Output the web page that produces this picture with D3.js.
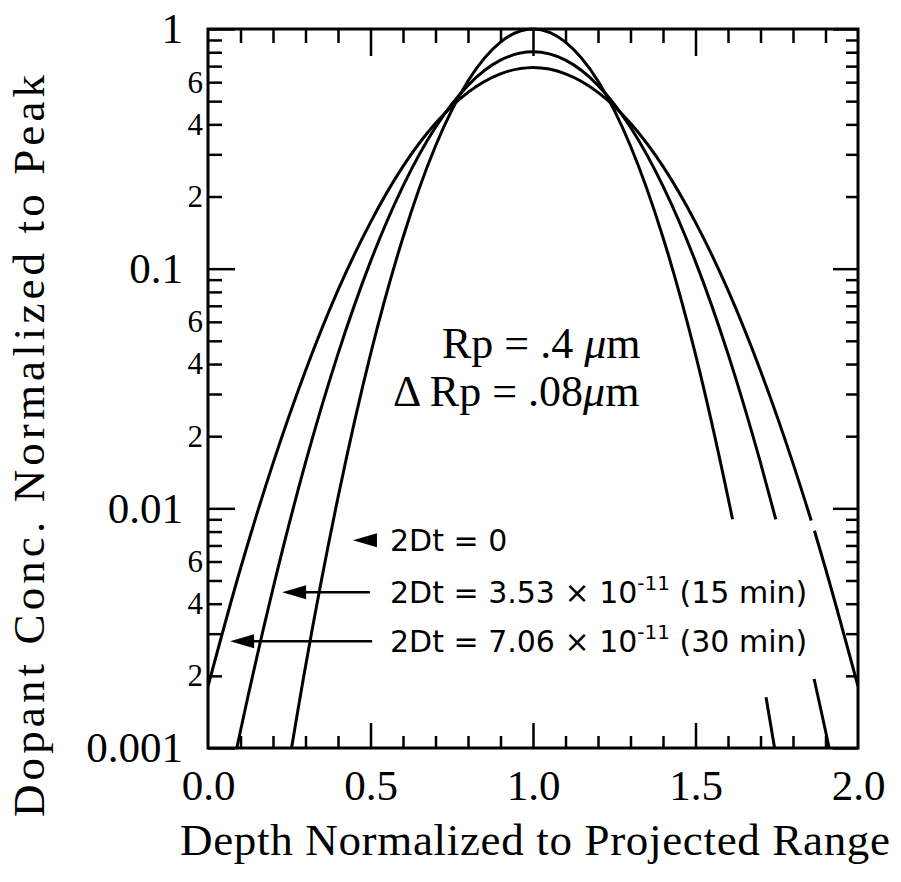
<!DOCTYPE html>
<html>
<head>
<meta charset="utf-8">
<script src="https://cdn.jsdelivr.net/npm/d3@7"></script>
<style>
  body { margin: 0; background: #fff; }
  text { fill: #000; }
</style>
</head>
<body>
<svg id="chart" width="901" height="882"></svg>
<script>
// depth / Rp for each curve (null = gap in the printed line)
const noAnnealX = [0.2, 0.3, 0.4, 0.5, 0.6, 0.7, 0.8, 0.9, 1.0, 1.1, 1.2, 1.3, 1.4, 1.5, 1.6, 1.614, 1.66, 1.717, 1.75];
const noAnnealY = [0.000335, 0.00219, 0.0111, 0.0439, 0.135, 0.325, 0.607, 0.882, 1.0, 0.882, 0.607, 0.325, 0.135, 0.0439, 0.0111, 0.0090, null, 0.00163, 0.000884];

const min15X = [0, 0.1, 0.2, 0.3, 0.4, 0.5, 0.6, 0.7, 0.8, 0.9, 1.0, 1.1, 1.2, 1.3, 1.4, 1.5, 1.6, 1.7, 1.747, 1.8, 1.865, 1.9, 1.95];
const min15Y = [0.000255, 0.00118, 0.00463, 0.0155, 0.0441, 0.107, 0.221, 0.389, 0.582, 0.741, 0.803, 0.741, 0.582, 0.389, 0.221, 0.107, 0.0441, 0.0155, 0.0090, null, 0.00194, 0.00118, 0.000558];

const min30X = [0, 0.1, 0.2, 0.3, 0.4, 0.5, 0.6, 0.7, 0.8, 0.9, 1.0, 1.1, 1.2, 1.3, 1.4, 1.5, 1.6, 1.7, 1.8, 1.856, 1.86, 1.866, 1.9, 2.0];
const min30Y = [0.00181, 0.00561, 0.0154, 0.0375, 0.0813, 0.156, 0.267, 0.404, 0.544, 0.650, 0.690, 0.650, 0.544, 0.404, 0.267, 0.156, 0.0813, 0.0375, 0.0154, 0.0089, null, 0.00806, 0.00561, 0.00181];

// axis ticks
const xLabels = [0, 0.5, 1.0, 1.5, 2.0];
const xMinor = [0.1, 0.2, 0.3, 0.4, 0.6, 0.7, 0.8, 0.9, 1.1, 1.2, 1.3, 1.4, 1.6, 1.7, 1.8, 1.9];
const xMajor = [0.5, 1.0, 1.5];
const yDecades = [1, 0.1, 0.01, 0.001];
const yDecadeLabels = ["1", "0.1", "0.01", "0.001"];
const yMinor = [0.9, 0.8, 0.7, 0.6, 0.5, 0.4, 0.3, 0.2,
                0.09, 0.08, 0.07, 0.06, 0.05, 0.04, 0.03, 0.02,
                0.009, 0.008, 0.007, 0.006, 0.005, 0.004, 0.003, 0.002];
const yMinorLabeled = [0.6, 0.4, 0.2, 0.06, 0.04, 0.02, 0.006, 0.004, 0.002];

// legend rows: arrow tip / tail and text start in data units
const legendRows = [
  { text: "2Dt = 0", sup: null, tail: null, tip: 0.446, y: 0.00736, textX: 0.56 },
  { text: "2Dt = 3.53 \u00d7 10", sup: "-11", rest: " (15 min)", tail: 0.498, tip: 0.228, y: 0.00447, textX: 0.56 },
  { text: "2Dt = 7.06 \u00d7 10", sup: "-11", rest: " (30 min)", tail: 0.505, tip: 0.068, y: 0.00279, textX: 0.56 }
];

const svg = d3.select("#chart");
const pl = 208, pr = 858, pt = 29, pb = 748;

const x = d3.scaleLinear().domain([0, 2]).range([pl, pr]);
const y = d3.scaleLog().domain([0.001, 1]).range([pb, pt]);

const serif = "'Liberation Serif', 'Times New Roman', Times, serif";
const sans = "'DejaVu Sans', Verdana, sans-serif";

svg.append("defs").append("clipPath").attr("id", "plotclip")
   .append("rect")
   .attr("x", pl).attr("y", pt - 6)
   .attr("width", pr - pl).attr("height", pb - pt + 6);

// curves
const series = [
  { xs: noAnnealX, ys: noAnnealY },
  { xs: min15X, ys: min15Y },
  { xs: min30X, ys: min30Y }
];

const line = d3.line()
   .defined(d => d[1] != null)
   .x(d => x(d[0]))
   .y(d => y(d[1]))
   .curve(d3.curveMonotoneX);

svg.append("g")
   .attr("clip-path", "url(#plotclip)")
   .selectAll("path")
   .data(series)
   .enter().append("path")
   .attr("d", s => line(s.xs.map((v, i) => [v, s.ys[i]])))
   .attr("fill", "none")
   .attr("stroke", "#000")
   .attr("stroke-width", 3);

// tick helper
function ticks(g, w) {
  g.select(".domain").remove();
  g.selectAll("line").attr("stroke", "#000").attr("stroke-width", w);
}

// bottom
svg.append("g").attr("transform", `translate(0,${pb})`)
   .call(d3.axisBottom(x).tickValues(xMinor).tickSize(-12).tickFormat(""))
   .call(g => ticks(g, 2.5));
svg.append("g").attr("transform", `translate(0,${pb})`)
   .call(d3.axisBottom(x).tickValues(xMajor).tickSize(-25).tickFormat(""))
   .call(g => ticks(g, 2.5));
svg.append("g").attr("transform", `translate(0,${pb})`)
   .call(d3.axisBottom(x).tickValues(xLabels).tickSize(0).tickPadding(21).tickFormat(d3.format(".1f")))
   .call(g => g.select(".domain").remove())
   .call(g => g.selectAll("text").attr("font-family", serif).attr("font-size", 43).attr("fill", "#000"));

// top
svg.append("g").attr("transform", `translate(0,${pt})`)
   .call(d3.axisTop(x).tickValues(xMinor).tickSize(-14).tickFormat(""))
   .call(g => ticks(g, 2.5));
svg.append("g").attr("transform", `translate(0,${pt})`)
   .call(d3.axisTop(x).tickValues(xMajor).tickSize(-27).tickFormat(""))
   .call(g => ticks(g, 2.5));

// left
svg.append("g").attr("transform", `translate(${pl},0)`)
   .call(d3.axisLeft(y).tickValues(yMinor).tickSize(-14).tickFormat(""))
   .call(g => ticks(g, 2.5));
svg.append("g").attr("transform", `translate(${pl},0)`)
   .call(d3.axisLeft(y).tickValues(yDecades).tickSize(-27).tickFormat(""))
   .call(g => ticks(g, 2.5));
svg.append("g").attr("transform", `translate(${pl},0)`)
   .call(d3.axisLeft(y).tickValues(yDecades).tickSize(0).tickPadding(25)
          .tickFormat((d, i) => yDecadeLabels[i]))
   .call(g => g.select(".domain").remove())
   .call(g => g.selectAll("text").attr("font-family", serif).attr("font-size", 43).attr("fill", "#000"));
svg.append("g").attr("transform", `translate(${pl},0)`)
   .call(d3.axisLeft(y).tickValues(yMinorLabeled).tickSize(0).tickPadding(5)
          .tickFormat(d => d3.format(".0e")(d)[0]))
   .call(g => g.select(".domain").remove())
   .call(g => g.selectAll("text").attr("font-family", serif).attr("font-size", 31).attr("fill", "#000"));

// right
svg.append("g").attr("transform", `translate(${pr},0)`)
   .call(d3.axisRight(y).tickValues(yMinor).tickSize(-12).tickFormat(""))
   .call(g => ticks(g, 2.5));
svg.append("g").attr("transform", `translate(${pr},0)`)
   .call(d3.axisRight(y).tickValues(yDecades).tickSize(-25).tickFormat(""))
   .call(g => ticks(g, 2.5));

// frame
svg.append("rect")
   .attr("x", pl).attr("y", pt)
   .attr("width", pr - pl).attr("height", pb - pt)
   .attr("fill", "none").attr("stroke", "#000").attr("stroke-width", 3);

// axis titles
svg.append("text")
   .attr("x", 535).attr("y", 855)
   .attr("text-anchor", "middle")
   .attr("font-family", serif).attr("font-size", 45)
   .attr("textLength", 710).attr("lengthAdjust", "spacing")
   .text("Depth Normalized to Projected Range");

svg.append("text")
   .attr("transform", "translate(44,446) rotate(-90)")
   .attr("text-anchor", "middle")
   .attr("font-family", serif).attr("font-size", 45)
   .attr("textLength", 742).attr("lengthAdjust", "spacing")
   .text("Dopant Conc. Normalized to Peak");

// Rp / dRp note
const note1 = svg.append("text").attr("x", 442).attr("y", 358)
   .attr("font-family", serif).attr("font-size", 44);
note1.append("tspan").text("Rp = .4 ");
note1.append("tspan").attr("font-style", "italic").text("\u03bc");
note1.append("tspan").text("m");

const note2 = svg.append("text").attr("x", 393).attr("y", 406)
   .attr("font-family", serif).attr("font-size", 44);
note2.append("tspan").text("\u0394 Rp = .08");
note2.append("tspan").attr("font-style", "italic").text("\u03bc");
note2.append("tspan").text("m");

// legend arrows and labels
const leg = svg.append("g");
legendRows.forEach(r => {
  const ty = y(r.y);
  if (r.tail != null) {
    leg.append("line")
       .attr("x1", x(r.tail)).attr("x2", x(r.tip) + 10)
       .attr("y1", ty).attr("y2", ty)
       .attr("stroke", "#000").attr("stroke-width", 2.5);
  }
  const tx = x(r.tip);
  leg.append("path")
     .attr("d", `M${tx},${ty} L${tx + 24},${ty - 7} L${tx + 24},${ty + 7} Z`)
     .attr("fill", "#000");
  const t = leg.append("text")
     .attr("x", x(r.textX)).attr("y", ty + 11)
     .attr("font-family", sans).attr("font-size", 30);
  t.append("tspan").text(r.text);
  if (r.sup) {
    t.append("tspan").attr("dy", -13).attr("font-size", 20).text(r.sup);
    t.append("tspan").attr("dy", 13).text(r.rest);
  }
});
</script>
</body>
</html>
